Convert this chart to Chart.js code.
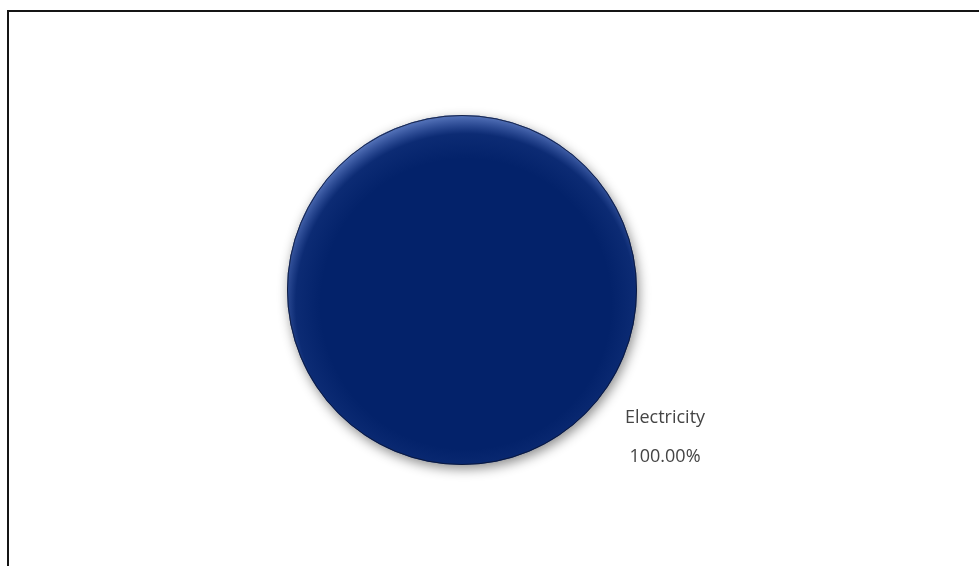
<!DOCTYPE html>
<html>
<head>
<meta charset="utf-8">
<script src="https://cdn.jsdelivr.net/npm/chart.js@4/dist/chart.umd.min.js"></script>
<style>
html,body{margin:0;padding:0;background:#fff;overflow:hidden;}
#wrap{position:relative;width:979px;height:566px;}
#frame{position:absolute;left:7px;top:10px;width:1100px;height:700px;border:2px solid #151515;box-sizing:border-box;}
canvas{position:absolute;left:0;top:0;}
</style>
</head>
<body>
<div id="wrap">
<div id="frame"></div>
<canvas id="c" width="979" height="566"></canvas>
</div>
<script>
const categories = ["Electricity"];
const values = [100];
const percentLabels = ["100.00%"];
const colors = ["#03226a"];

const bevelPlugin = {
  id: 'bevel',
  beforeDatasetDraw(chart) {
    const ctx = chart.ctx;
    ctx.save();
    ctx.shadowColor = 'rgba(0,0,0,0.45)';
    ctx.shadowBlur = 12;
    ctx.shadowOffsetX = 2;
    ctx.shadowOffsetY = 4;
  },
  afterDatasetDraw(chart) {
    const ctx = chart.ctx;
    ctx.restore();
    const arc = chart.getDatasetMeta(0).data[0];
    if (!arc) return;
    const cx = arc.x, cy = arc.y, R = arc.outerRadius;
    ctx.save();
    ctx.beginPath();
    ctx.arc(cx, cy, R, 0, Math.PI * 2);
    ctx.clip();
    const g = ctx.createRadialGradient(cx + 4, cy + 14, R - 30, cx + 4, cy + 14, R + 12);
    g.addColorStop(0, 'rgba(120,150,230,0)');
    g.addColorStop(0.6, 'rgba(120,150,230,0.08)');
    g.addColorStop(1, 'rgba(140,170,240,0.55)');
    ctx.fillStyle = g;
    ctx.fillRect(cx - R, cy - R, 2 * R, 2 * R);
    ctx.restore();
    ctx.save();
    ctx.beginPath();
    ctx.arc(cx, cy, R - 0.5, 0, Math.PI * 2);
    ctx.strokeStyle = 'rgba(10,20,50,0.8)';
    ctx.lineWidth = 1;
    ctx.stroke();
    ctx.restore();
  },
  afterDraw(chart) {
    const arc = chart.getDatasetMeta(0).data[0];
    if (!arc) return;
    const ctx = chart.ctx;
    const R = arc.outerRadius;
    const lx = arc.x + R * 1.16;
    const ly = arc.y + R * 0.73;
    ctx.save();
    ctx.font = '18px "Open Sans", sans-serif';
    ctx.fillStyle = '#454545';
    ctx.textAlign = 'center';
    ctx.textBaseline = 'middle';
    ctx.fillText(categories[0], lx, ly);
    ctx.fillText(percentLabels[0], lx, ly + 39);
    ctx.restore();
  }
};

new Chart(document.getElementById('c'), {
  type: 'pie',
  data: {
    labels: categories,
    datasets: [{
      data: values,
      backgroundColor: colors,
      borderWidth: 0,
      hoverOffset: 0
    }]
  },
  options: {
    responsive: false,
    animation: false,
    layout: { padding: { left: 287, right: 342, top: 115, bottom: 101 } },
    plugins: {
      legend: { display: false },
      tooltip: { enabled: false }
    }
  },
  plugins: [bevelPlugin]
});
</script>
</body>
</html>
